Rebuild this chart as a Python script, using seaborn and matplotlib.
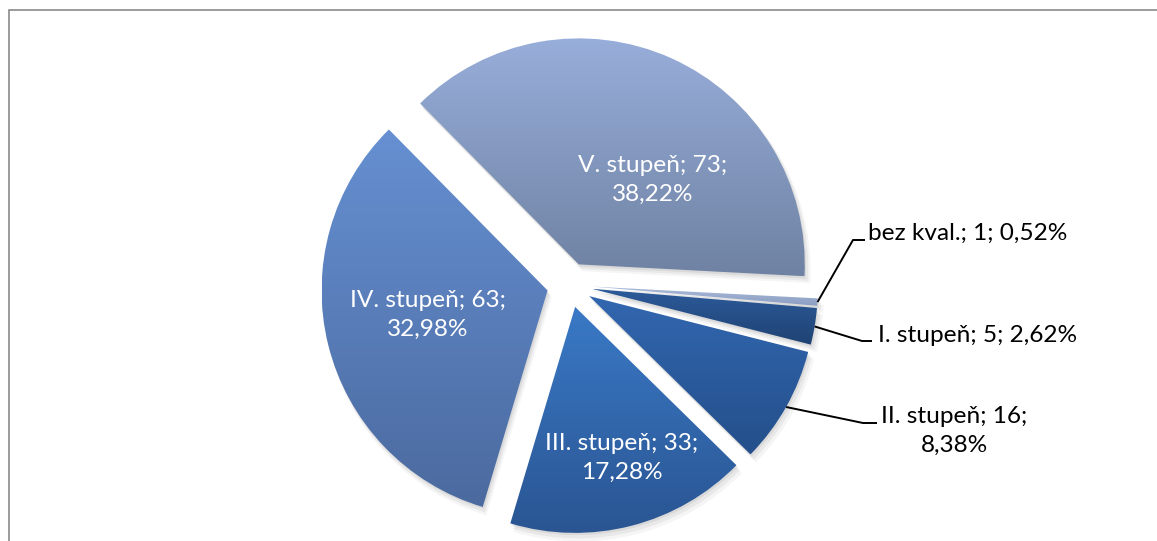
import numpy as np
import matplotlib
matplotlib.use("Agg")
import matplotlib.pyplot as plt
import seaborn as sns
from matplotlib.colors import LinearSegmentedColormap
from matplotlib.patches import Wedge, Rectangle

# data
names = ["bez kval.", "I. stupeň", "II. stupeň", "III. stupeň", "IV. stupeň", "V. stupeň"]
counts = [1, 5, 16, 33, 63, 73]

# gradient colours per slice (top -> bottom)
tops = ["#A9BADA", "#2C5A9A", "#3267B0", "#3A79C6", "#6690D2", "#98AEDA"]
bots = ["#8C9EC2", "#1F4373", "#244F8A", "#2A5592", "#4B6A9F", "#6F82A3"]

sns.set_theme(style="white")
plt.rcParams["font.family"] = ["Lato", "DejaVu Sans"]

W, H = 1157, 541
fig = plt.figure(figsize=(W / 100, H / 100), dpi=100)
ax = fig.add_axes([0, 0, 1, 1])

total = sum(counts)
pcts = [c / total * 100 for c in counts]

wedges, _ = ax.pie(counts, startangle=-3, counterclock=False,
                   explode=[0.1] * len(counts), radius=1.0,
                   wedgeprops=dict(linewidth=0))

# pixel frame: centre of pie around (569.5, 285), radius 226 px
R = 226.0
cx, cy = 569.5, 285.0

# soft shadow + vertical gradient per slice
grad = np.linspace(0, 1, 256).reshape(-1, 1)
for w, t, b in zip(wedges, tops, bots):
    for k, a in enumerate([0.10, 0.08, 0.06]):
        s = Wedge((w.center[0] + 0.006 * (k + 1), w.center[1] - 0.010 * (k + 1)),
                  w.r + 0.004 * k, w.theta1, w.theta2,
                  facecolor="0.35", edgecolor="none", alpha=a, zorder=0.5)
        ax.add_patch(s)
    ext = w.get_path().get_extents()
    cmap = LinearSegmentedColormap.from_list("g", [t, b])
    im = ax.imshow(grad, extent=[ext.x0, ext.x1, ext.y0, ext.y1], origin="upper",
                   cmap=cmap, aspect="auto", zorder=2, interpolation="bilinear")
    im.set_clip_path(w)
    w.set_facecolor("none")
    w.set_zorder(2)

ax.set_xlim(-cx / R, (W - cx) / R)
ax.set_ylim(-(H - cy) / R, cy / R)
ax.set_aspect("auto")
ax.axis("off")


def fmt(i, wrap):
    p = f"{pcts[i]:.2f}".replace(".", ",") + "%"
    sep = "\n" if wrap else " "
    return f"{names[i]}; {counts[i]};{sep}{p}"


def px(x, y):
    return ((x - cx) / R, (cy - y) / R)


fs = 17.6
ls = 1.5
# inside labels (white)
inside = {3: (622, 458), 4: (428, 315), 5: (653, 180)}
for i, (x, y) in inside.items():
    ax.text(*px(x, y), fmt(i, True), color="white", ha="center", va="center",
            fontsize=fs, linespacing=ls, zorder=5)

# outside labels with leader lines
outside = {
    0: dict(elbow=(853, 240), end=(865, 240), text=(868, 233), ha="left", wrap=False),
    1: dict(elbow=(862, 341), end=(872, 341), text=(878, 336), ha="left", wrap=False),
    2: dict(elbow=(863, 423), end=(877, 423), text=(954, 431), ha="center", wrap=True),
}
for i, o in outside.items():
    w = wedges[i]
    mid = np.deg2rad((w.theta1 + w.theta2) / 2)
    ex = w.center[0] + w.r * np.cos(mid)
    ey = w.center[1] + w.r * np.sin(mid)
    ex2, ey2 = px(*o["elbow"])
    ex3, ey3 = px(*o["end"])
    ax.plot([ex, ex2, ex3], [ey, ey2, ey3], color="black", lw=1.4, zorder=4,
            solid_capstyle="butt")
    tx, ty = px(*o["text"])
    ax.text(tx, ty, fmt(i, o["wrap"]), color="black", ha=o["ha"], va="center",
            fontsize=fs, linespacing=ls, zorder=5)

# chart border (only left and top visible in the crop)
fig.patches.append(Rectangle((8.5 / W, -0.1), 1.2, 1.1 - 10.5 / H,
                             transform=fig.transFigure, fill=False,
                             edgecolor="#8A8A8A", linewidth=1.2, zorder=10))

fig.savefig("out.png", dpi=100)
